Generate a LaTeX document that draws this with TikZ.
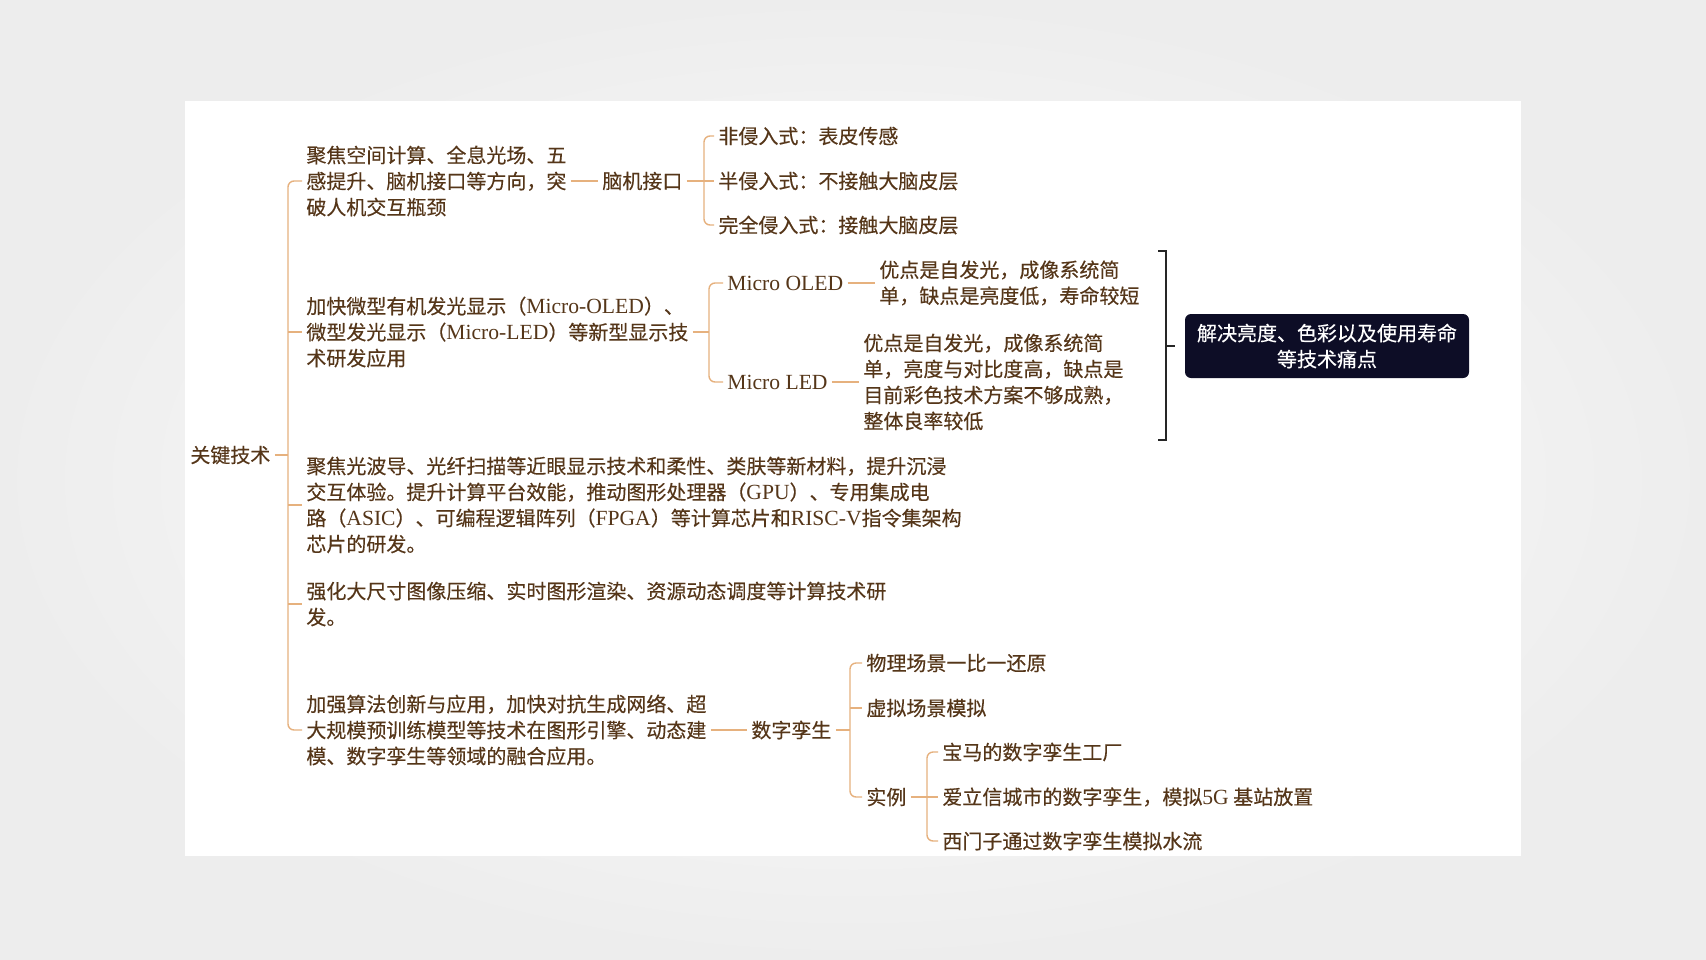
\documentclass[tikz,border=0pt]{standalone}
\usepackage{fontspec}
\setmainfont{Noto Sans CJK SC}[FakeBold=0.3]
\newfontfamily\lat{Liberation Serif}[Scale=1.08]
\usetikzlibrary{calc}
\definecolor{txt}{HTML}{553619}
\definecolor{ln}{HTML}{E6B17E}
\definecolor{boxc}{HTML}{0D0D26}
\begin{document}
\begin{tikzpicture}[x=0.5pt,y=-0.5pt,
  t/.style={anchor=west, inner xsep=2pt, inner ysep=1pt, align=left, text=txt, font=\fontsize{10}{13}\selectfont},
  conn/.style={draw=ln, line width=0.7pt, rounded corners=3pt},
  brace/.style={draw=black!85, line width=1pt}]
\useasboundingbox (0,0) rectangle (1706,959);
\shade[inner color=white, outer color=black!7] (0,0) rectangle (1706,959);
\fill[white] (185,101) rectangle (1521,856);

% root
\node[t] (root) at (186,455) {关键技术};
\coordinate (rb) at (288,455);

% child 1
\node[t] (c1) at (302,181) {聚焦空间计算、全息光场、五\\感提升、脑机接口等方向，突\\破人机交互瓶颈};
\node[t] (c1a) at (598,181) {脑机接口};
\coordinate (b1) at (704,181);
\node[t] (c1a1) at (714,136) {非侵入式：表皮传感};
\node[t] (c1a2) at (714,181) {半侵入式：不接触大脑皮层};
\node[t] (c1a3) at (714,225) {完全侵入式：接触大脑皮层};

% child 2
\node[t] (c2) at (302,332) {加快微型有机发光显示（{\lat Micro-OLED}）、\\微型发光显示（{\lat Micro-LED}）等新型显示技\\术研发应用};
\coordinate (b2) at (709,332);
\node[t] (c2a) at (723,283) {\lat Micro OLED};
\node[t] (c2a1) at (875,283) {优点是自发光，成像系统简\\单，缺点是亮度低，寿命较短};
\node[t] (c2b) at (723,382) {\lat Micro LED};
\node[t] (c2b1) at (859,382) {优点是自发光，成像系统简\\单，亮度与对比度高，缺点是\\目前彩色技术方案不够成熟，\\整体良率较低};

% brace and box
\coordinate (bt) at (1158,251);
\coordinate (bb) at (1158,440);
\coordinate (bm) at (1166,346);
\draw[brace] (bt) -| (bm) |- (bb);
\draw[brace] (bm) -- ++(9,0) coordinate (bme);
\node[fill=boxc, rounded corners=3pt, minimum width=142pt, minimum height=32pt, inner sep=2pt,
  align=center, text=white, font=\fontsize{10}{13}\selectfont] (box) at (1327,346)
  {解决亮度、色彩以及使用寿命\\等技术痛点};

% child 3
\node[t] (c3) at (302,505) {聚焦光波导、光纤扫描等近眼显示技术和柔性、类肤等新材料，提升沉浸\\交互体验。提升计算平台效能，推动图形处理器（{\lat GPU}）、专用集成电\\路（{\lat ASIC}）、可编程逻辑阵列（{\lat FPGA}）等计算芯片和{\lat RISC-V}指令集架构\\芯片的研发。};

% child 4
\node[t] (c4) at (302,604) {强化大尺寸图像压缩、实时图形渲染、资源动态调度等计算技术研\\发。};

% child 5
\node[t] (c5) at (302,730) {加强算法创新与应用，加快对抗生成网络、超\\大规模预训练模型等技术在图形引擎、动态建\\模、数字孪生等领域的融合应用。};
\node[t] (c5a) at (747,730) {数字孪生};
\coordinate (b5) at (850,730);
\node[t] (c5a1) at (862,663) {物理场景一比一还原};
\node[t] (c5a2) at (862,708) {虚拟场景模拟};
\node[t] (c5a3) at (862,797) {实例};
\coordinate (b6) at (927,797);
\node[t] (c5a3a) at (938,752) {宝马的数字孪生工厂};
\node[t] (c5a3b) at (938,797) {爱立信城市的数字孪生，模拟{\lat 5G} 基站放置};
\node[t] (c5a3c) at (938,841) {西门子通过数字孪生模拟水流};

% connectors
\draw[conn] (root.east) -- (rb);
\draw[conn] (c1.west) -| (rb) |- (c5.west);
\draw[conn] (rb |- c2.west) -- (c2.west);
\draw[conn] (rb |- c3.west) -- (c3.west);
\draw[conn] (rb |- c4.west) -- (c4.west);

\draw[conn] (c1.east) -- (c1a.west);
\draw[conn] (c1a.east) -- (b1);
\draw[conn] (c1a1.west) -| (b1) |- (c1a3.west);
\draw[conn] (b1) -- (c1a2.west);

\draw[conn] (c2.east) -- (b2);
\draw[conn] (c2a.west) -| (b2) |- (c2b.west);
\draw[conn] (c2a.east) -- (c2a1.west);
\draw[conn] (c2b.east) -- (c2b1.west);

\draw[conn] (c5.east) -- (c5a.west);
\draw[conn] (c5a.east) -- (b5);
\draw[conn] (c5a1.west) -| (b5) |- (c5a3.west);
\draw[conn] (b5 |- c5a2.west) -- (c5a2.west);
\draw[conn] (c5a3.east) -- (b6);
\draw[conn] (c5a3a.west) -| (b6) |- (c5a3c.west);
\draw[conn] (b6) -- (c5a3b.west);
\end{tikzpicture}
\end{document}
